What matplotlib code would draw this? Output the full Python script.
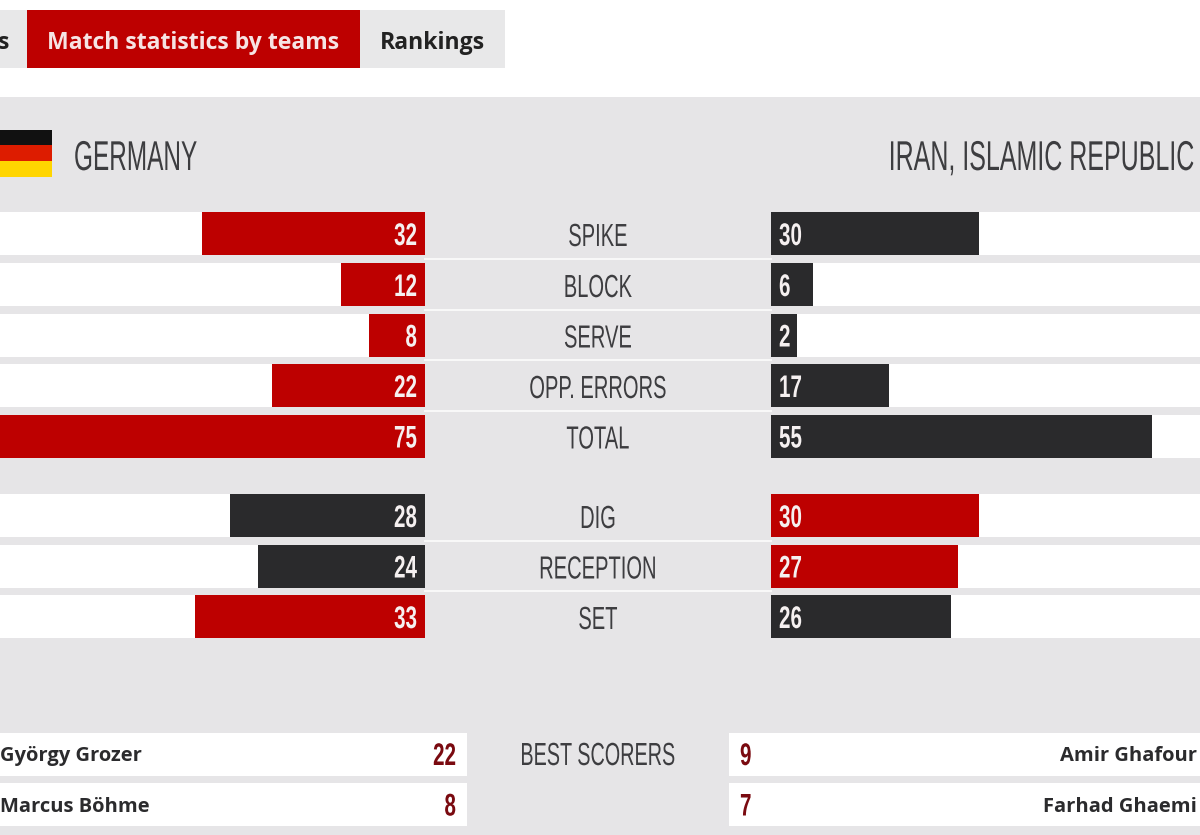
import matplotlib
matplotlib.use("Agg")
import matplotlib.pyplot as plt
import matplotlib.patheffects as pe
from matplotlib.patches import Rectangle
from matplotlib.transforms import Affine2D
import numpy as np

# stats table
categories = ['SPIKE', 'BLOCK', 'SERVE', 'OPP. ERRORS', 'TOTAL', 'DIG', 'RECEPTION', 'SET']
germany = [32, 12, 8, 22, 75, 28, 24, 33]
iran = [30, 6, 2, 17, 55, 30, 27, 26]
germany_won = [True, True, True, True, True, False, False, True]

# best scorers
germany_scorers = ['György Grozer', 'Marcus Böhme']
germany_points = [22, 8]
iran_scorers = ['Amir Ghafour', 'Farhad Ghaemi']
iran_points = [9, 7]

# layout, in pixels of the screenshot
row_y = np.array([233.5, 284.5, 335, 385.5, 436, 515.5, 566, 616.5])
scorer_y = [754, 804.5]
bar_h = 43
px_left = 6.96
px_right = 6.93
min_bar = 26  # the site keeps small bars wide enough for the label
left_end = 425
right_start = 771

RED = '#bd0000'
DARK = '#2a2a2c'
GREY = '#e6e5e7'
TEXT = '#3d3d40'
SANS = ['Liberation Sans', 'DejaVu Sans']
BOLD = ['Open Sans', 'DejaVu Sans']


class Squeeze(pe.AbstractPathEffect):
    # no condensed font here, so narrow the glyphs around the text anchor
    def __init__(self, x_px, factor):
        super().__init__()
        self.x_px = x_px
        self.factor = factor

    def draw_path(self, renderer, gc, tpath, affine, rgbFace=None):
        squeeze = Affine2D().translate(-self.x_px, 0).scale(self.factor, 1).translate(self.x_px, 0)
        renderer.draw_path(gc, tpath, affine + squeeze, rgbFace)


def narrow(x, y, s, size, factor, color=TEXT, ha='center', weight='normal'):
    t = ax.text(x, y, s, family=SANS, fontsize=size, color=color, va='baseline', ha=ha, weight=weight)
    t.set_path_effects([Squeeze(x, factor)])
    return t


fig = plt.figure(figsize=(12, 8.35), dpi=100)
ax = fig.add_axes([0, 0, 1, 1])
ax.set_xlim(0, 1200)
ax.set_ylim(835, 0)
ax.axis('off')

# panel and tabs
ax.add_patch(Rectangle((0, 97), 1200, 738, color=GREY, lw=0))
ax.add_patch(Rectangle((0, 10), 505, 58, color='#e8e8e9', lw=0))
ax.add_patch(Rectangle((27, 10), 333, 58, color=RED, lw=0))
ax.text(-2, 49, 's', family=BOLD, weight='bold', fontsize=16.6, color='#222222', va='baseline', ha='left')
ax.text(193.5, 49, 'Match statistics by teams', family=BOLD, weight='bold', fontsize=16.6,
        color='#f6e4e4', va='baseline', ha='center')
ax.text(432.5, 49, 'Rankings', family=BOLD, weight='bold', fontsize=16.6, color='#222222',
        va='baseline', ha='center')

# flag
for top, colour in zip([130, 145, 161], ['#111111', '#dd1c00', '#ffd500']):
    ax.add_patch(Rectangle((0, top), 52, 15.5, color=colour, lw=0))

# team names
narrow(74, 170, 'GERMANY', 30, 0.585, ha='left')
narrow(1194, 170, 'IRAN, ISLAMIC REPUBLIC', 30, 0.6, ha='right')

# white tracks behind the bars
ax.barh(row_y, [left_end] * len(row_y), height=bar_h, left=0, color='white', lw=0)
ax.barh(row_y, [1200 - right_start] * len(row_y), height=bar_h, left=right_start, color='white', lw=0)

# thin separators in the middle column
for y0, y1 in zip(row_y[:-1], row_y[1:]):
    if y1 - y0 < 60:
        ax.plot([left_end, right_start], [(y0 + y1) / 2] * 2, color='#f8f8f8', lw=1.5)

for y, cat, g, i, won in zip(row_y, categories, germany, iran, germany_won):
    g_w = max(g * px_left, min_bar)
    i_w = max(i * px_right, min_bar)
    ax.barh(y, g_w, height=bar_h, left=left_end - g_w, color=RED if won else DARK, lw=0)
    ax.barh(y, i_w, height=bar_h, left=right_start, color=DARK if won else RED, lw=0)
    narrow(left_end - 8, y + 11.5, str(g), 22.5, 0.66, color='#f5f0f0', ha='right', weight='bold')
    narrow(right_start + 8, y + 11.5, str(i), 22.5, 0.66, color='#f5f0f0', ha='left', weight='bold')
    narrow(598, y + 12.5, cat, 23, 0.63)

# best scorers
narrow(598, 765, 'BEST SCORERS', 23, 0.62)
for k, y in enumerate(scorer_y):
    ax.add_patch(Rectangle((0, y - 21.5), 467, 43, color='white', lw=0))
    ax.add_patch(Rectangle((729, y - 21.5), 471, 43, color='white', lw=0))
    ax.text(0, y + 7, germany_scorers[k], family=BOLD, weight='bold', fontsize=14.5, color='#2b2b2d',
            va='baseline', ha='left')
    narrow(456, y + 11, str(germany_points[k]), 22.5, 0.66, color='#7a0a10', ha='right', weight='bold')
    narrow(740, y + 11, str(iran_points[k]), 22.5, 0.66, color='#7a0a10', ha='left', weight='bold')
    ax.text(1197, y + 7, iran_scorers[k], family=BOLD, weight='bold', fontsize=14.5, color='#2b2b2d',
            va='baseline', ha='right')

fig.savefig('out.png', dpi=100)
